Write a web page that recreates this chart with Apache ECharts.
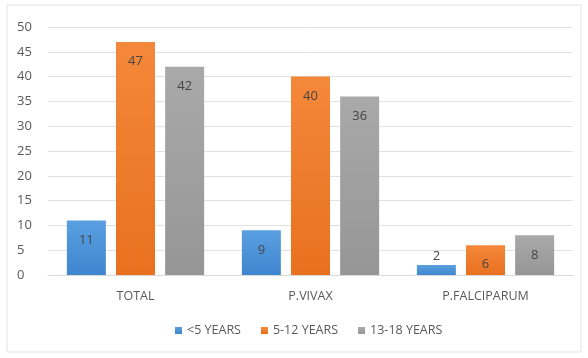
<!DOCTYPE html>
<html>
<head>
<meta charset="utf-8">
<script src="https://cdn.jsdelivr.net/npm/echarts@6/dist/echarts.min.js"></script>
<style>
html,body{margin:0;padding:0;background:#fff;}
#chart{width:588px;height:358px;}
</style>
</head>
<body>
<div id="chart"></div>
<script>
// 数据
var categories = ['TOTAL', 'P.VIVAX', 'P.FALCIPARUM'];
var seriesNames = ['<5 YEARS', '5-12 YEARS', '13-18 YEARS'];
var under5 = [11, 9, 2];
var age5to12 = [47, 40, 6];
var age13to18 = [42, 36, 8];
var yTicks = [0, 5, 10, 15, 20, 25, 30, 35, 40, 45, 50];

function grad(top, bottom){
	return new echarts.graphic.LinearGradient(0, 0, 0, 1, [
		{offset: 0, color: top},
		{offset: 1, color: bottom}
	]);
}

// 小柱子的标签放到柱子上方
function toData(arr){
	return arr.map(function(v){
		if(v < 4){
			return {value: v, label: {position: 'top', distance: 2}};
		}
		return v;
	});
}

function makeSeries(name, arr, color){
	return {
		name: name,
		type: 'bar',
		barWidth: 39,
		barGap: '26%',
		itemStyle: {color: color},
		label: {
			show: true,
			position: 'insideTop',
			distance: 13,
			color: '#454545',
			fontSize: 13,
			fontFamily: 'Open Sans'
		},
		data: toData(arr)
	};
}

var myChart = echarts.init(document.getElementById('chart'));
var option = {
	animation: false,
	graphic: [{
		type: 'rect',
		shape: {x: 7, y: 5, width: 574, height: 347},
		style: {fill: 'none', stroke: '#e3e3e3', lineWidth: 1},
		silent: true
	}],
	grid: {left: 48, right: 15, top: 27, bottom: 83},
	legend: {
		bottom: 16,
		left: 170,
		itemWidth: 7,
		itemHeight: 7,
		itemGap: 20,
		icon: 'rect',
		textStyle: {color: '#595959', fontSize: 12.5, fontFamily: 'Open Sans'},
		data: seriesNames
	},
	xAxis: {
		type: 'category',
		data: categories,
		axisTick: {show: false},
		axisLine: {lineStyle: {color: '#d9d9d9'}},
		axisLabel: {color: '#595959', fontSize: 12.5, fontFamily: 'Open Sans', margin: 15}
	},
	yAxis: {
		type: 'value',
		min: yTicks[0],
		max: yTicks[yTicks.length - 1],
		interval: yTicks[1] - yTicks[0],
		axisLine: {show: false},
		axisTick: {show: false},
		splitLine: {lineStyle: {color: '#e2e2e2'}},
		axisLabel: {color: '#595959', fontSize: 13, fontFamily: 'Open Sans', margin: 31, align: 'left'}
	},
	series: [
		makeSeries(seriesNames[0], under5, grad('#5a9fe0', '#3f86cf')),
		makeSeries(seriesNames[1], age5to12, grad('#f4883a', '#e8711f')),
		makeSeries(seriesNames[2], age13to18, grad('#a9a9a9', '#969696'))
	],
	color: ['#4a90d9', '#ee7b2b', '#a0a0a0']
};
myChart.setOption(option);
</script>
</body>
</html>
